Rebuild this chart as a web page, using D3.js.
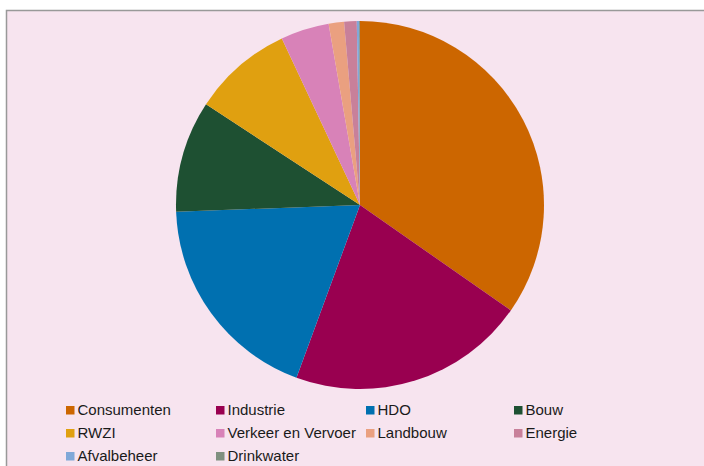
<!DOCTYPE html>
<html>
<head>
<meta charset="utf-8">
<script src="https://cdn.jsdelivr.net/npm/d3@7"></script>
<style>
  html, body { margin: 0; padding: 0; background: #fff; }
  svg { display: block; }
  text { font-family: "Liberation Sans", Arial, sans-serif; }
</style>
</head>
<body>
<div id="chart"></div>
<script>
// aandeel per bron (%)
const categories = ["Consumenten", "Industrie", "HDO", "Bouw", "RWZI",
    "Verkeer en Vervoer", "Landbouw", "Energie", "Afvalbeheer", "Drinkwater"];
const values = [34.7, 20.9, 18.8, 9.8, 8.8, 4.25, 1.35, 1.1, 0.2, 0.08];
const colors = ["#cc6600", "#990050", "#0070b0", "#1e5032", "#e0a010",
    "#d882b8", "#eaa080", "#c8809a", "#80a8d8", "#809080"];

const width = 704;
const height = 466;
const cx = 360, cy = 205, radius = 184;

const svg = d3.select("#chart").append("svg")
    .attr("width", width)
    .attr("height", height);

// achtergrond van het grafiekgebied
svg.append("rect")
    .attr("x", 6.5)
    .attr("y", 10.5)
    .attr("width", width + 10)
    .attr("height", height + 10)
    .attr("fill", "#f7e4ef")
    .attr("stroke", "#999")
    .attr("stroke-width", 1.5);

const data = categories.map((c, i) => ({ name: c, value: values[i] }));

const color = d3.scaleOrdinal()
    .domain(categories)
    .range(colors);

const pie = d3.pie()
    .sort(null)
    .value(d => d.value);

const arc = d3.arc()
    .innerRadius(0)
    .outerRadius(radius);

svg.append("g")
    .attr("transform", `translate(${cx},${cy})`)
    .selectAll("path")
    .data(pie(data))
    .enter().append("path")
    .attr("d", arc)
    .attr("fill", d => color(d.data.name));

// legenda, 4 kolommen
const colX = [66, 216, 366, 514];
const rowY = [415, 438, 461];

const item = svg.append("g")
    .selectAll("g")
    .data(categories)
    .enter().append("g")
    .attr("transform", (d, i) => `translate(${colX[i % 4]},${rowY[Math.floor(i / 4)]})`);

item.append("rect")
    .attr("x", 0)
    .attr("y", -9)
    .attr("width", 8.5)
    .attr("height", 8.5)
    .attr("fill", d => color(d));

item.append("text")
    .attr("x", 11.5)
    .attr("y", 0)
    .attr("font-size", 15)
    .attr("fill", "#1a1a1a")
    .text(d => d);
</script>
</body>
</html>
